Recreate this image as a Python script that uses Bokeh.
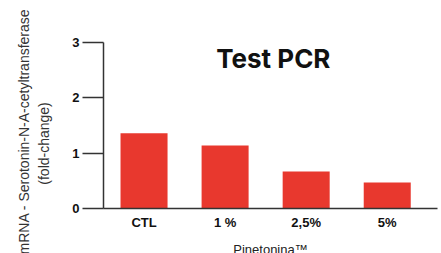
import math
from bokeh.plotting import figure
from bokeh.layouts import row
from bokeh.models import Range1d, FixedTicker, Label, ColumnDataSource
from bokeh.embed import file_html
from bokeh.resources import INLINE

categories = ["CTL", "1 %", "2,5%", "5%"]
values = [1.36, 1.14, 0.67, 0.47]
y_ticks = [0, 1, 2, 3]
title_text = "Test PCR"
y_label_1 = "mRNA - Serotonin-N-A-cetyltransferase"
y_label_2 = "(fold-change)"
x_label = "Pinetonina™"

positions = list(range(len(categories)))
src = ColumnDataSource(dict(x=positions, top=values, cat=categories))

# Narrow panel on the left holding the rotated y-axis title
side = figure(
    output_backend="svg", toolbar_location=None,
    frame_width=60, frame_height=253,
    x_range=Range1d(0, 60), y_range=Range1d(-0.813, 3.759),
    x_axis_location=None, y_axis_location=None,
    min_border_left=0, min_border_right=0, min_border_top=0, min_border_bottom=0,
)
side.outline_line_color = None
side.xgrid.visible = False
side.ygrid.visible = False
side.add_layout(Label(x=23, y=1.535, text=y_label_1, angle=math.pi / 2,
                      text_align="center", text_baseline="middle", text_font="Liberation Sans",
                      text_font_size="14px", text_color="#333333"))
side.add_layout(Label(x=43, y=1.32, text=y_label_2, angle=math.pi / 2,
                      text_align="center", text_baseline="middle", text_font="Liberation Sans",
                      text_font_size="14px", text_color="#333333"))

p = figure(
    output_backend="svg", toolbar_location=None,
    frame_width=334, frame_height=200,
    x_range=Range1d(-0.5, 3.62), y_range=Range1d(0, 3.615),
    min_border_left=43, min_border_right=4, min_border_top=8, min_border_bottom=45,
)
p.outline_line_color = None
p.xgrid.visible = False
p.ygrid.visible = False
p.background_fill_color = "white"
p.border_fill_color = "white"

p.vbar(x="x", top="top", width=0.58, source=src, fill_color="#e8382e", line_color=None)

# Y axis
ya = p.yaxis[0]
ya.ticker = FixedTicker(ticks=y_ticks)
ya.bounds = (0, 3)
ya.axis_line_color = "#333333"
ya.axis_line_width = 1.5
ya.major_tick_line_color = "#333333"
ya.major_tick_line_width = 1.5
ya.major_tick_out = 21
ya.major_tick_in = 0
ya.minor_tick_line_color = None
ya.major_label_standoff = 3
ya.major_label_text_font = "Liberation Sans"
ya.major_label_text_font_style = "bold"
ya.major_label_text_font_size = "13px"
ya.major_label_text_color = "#111111"

# X axis
xa = p.xaxis[0]
xa.ticker = FixedTicker(ticks=positions)
xa.major_label_overrides = {i: c for i, c in zip(positions, categories)}
xa.axis_line_color = "#333333"
xa.axis_line_width = 1.5
xa.major_tick_line_color = None
xa.minor_tick_line_color = None
xa.major_tick_out = 0
xa.major_tick_in = 0
xa.major_label_standoff = 6
xa.major_label_text_font = "Liberation Sans"
xa.major_label_text_font_style = "bold"
xa.major_label_text_font_size = "13px"
xa.major_label_text_color = "#111111"
xa.axis_label = x_label
xa.axis_label_standoff = 9
xa.axis_label_text_font = "Liberation Sans"
xa.axis_label_text_font_style = "normal"
xa.axis_label_text_font_size = "13px"
xa.axis_label_text_color = "#222222"

# Title
p.add_layout(Label(x=1.595, y=2.71, text=title_text, text_align="center",
                   text_baseline="alphabetic", text_font="Inter",
                   text_font_style="bold", text_font_size="26px", text_color="#111111"))

layout = row(side, p, spacing=0)
open("out.html", "w").write(file_html(layout, INLINE))
